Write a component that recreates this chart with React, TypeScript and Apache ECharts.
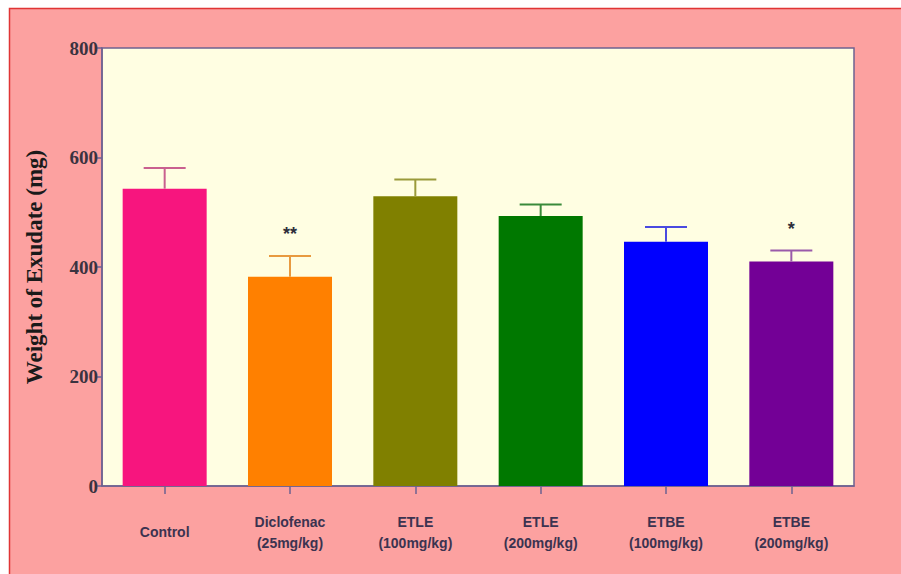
import React, { useEffect, useRef } from "react";
import * as echarts from "echarts";

const categories = [
  "Control",
  "Diclofenac\n(25mg/kg)",
  "ETLE\n(100mg/kg)",
  "ETLE\n(200mg/kg)",
  "ETBE\n(100mg/kg)",
  "ETBE\n(200mg/kg)",
];
const means = [543, 382, 529, 493, 446, 410];
const errors = [38, 38, 31, 21, 27, 20];
const stars = ["", "**", "", "", "", "*"];
const barColors = ["#F7157E", "#FF8000", "#808000", "#007800", "#0000FF", "#730096"];
const errColors = ["#C9608F", "#E89A40", "#9A9A3A", "#3A8A3A", "#4A4AE0", "#9A5AAA"];
const yTicks = { min: 0, max: 800, interval: 200 };

export default function App() {
  const ref = useRef<HTMLDivElement>(null);
  useEffect(() => {
    if (!ref.current) return;
    const chart = echarts.init(ref.current, undefined, { renderer: "svg" });
    const axisColor = "#6E6290";
    chart.setOption({
      animation: false,
      backgroundColor: "#FFFFFF",
      graphic: [
        {
          type: "rect",
          z: -10,
          silent: true,
          shape: { x: 9.5, y: 8.5, width: 1000, height: 700 },
          style: { fill: "#FCA1A0", stroke: "#E03535", lineWidth: 1.5 },
        },
      ],
      grid: {
        left: 102,
        top: 48,
        right: 47,
        bottom: 88,
        show: true,
        backgroundColor: "#FFFEE2",
        borderColor: axisColor,
        borderWidth: 1.5,
      },
      xAxis: {
        type: "category",
        data: categories,
        axisLine: { show: true, lineStyle: { color: axisColor, width: 1.5 } },
        axisTick: { show: true, alignWithLabel: true, length: 8, lineStyle: { color: axisColor, width: 1.5 } },
        axisLabel: {
          color: "#3B3350",
          fontFamily: "Liberation Sans, Arial, sans-serif",
          fontWeight: "bold",
          fontSize: 14,
          lineHeight: 21,
          margin: 46,
          verticalAlign: "middle",
          interval: 0,
        },
      },
      yAxis: {
        type: "value",
        min: yTicks.min,
        max: yTicks.max,
        interval: yTicks.interval,
        name: "Weight of Exudate (mg)",
        nameLocation: "middle",
        nameGap: 56,
        nameTextStyle: {
          color: "#1A1A1A",
          fontFamily: "Liberation Serif, Times New Roman, serif",
          fontWeight: "bold",
          fontSize: 23,
        },
        axisLine: { show: true, lineStyle: { color: axisColor, width: 1.5 } },
        axisTick: { show: true, length: 7, lineStyle: { color: axisColor, width: 1.5 } },
        axisLabel: {
          color: "#3A3340",
          fontFamily: "Liberation Serif, Times New Roman, serif",
          fontWeight: "bold",
          fontSize: 19,
          margin: 4,
        },
        splitLine: { show: false },
      },
      series: [
        {
          type: "bar",
          barWidth: 84,
          data: means.map((v, i) => ({ value: v, itemStyle: { color: barColors[i] } })),
        },
        {
          type: "custom",
          z: 3,
          data: means.map((v, i) => [i, v, v + errors[i]]),
          renderItem: (params: any, api: any) => {
            const i = api.value(0);
            const base = api.coord([i, api.value(1)]);
            const top = api.coord([i, api.value(2)]);
            const half = 21;
            const color = errColors[i];
            const children: any[] = [
              {
                type: "line",
                shape: { x1: base[0], y1: base[1], x2: top[0], y2: top[1] },
                style: { stroke: color, lineWidth: 2 },
              },
              {
                type: "line",
                shape: { x1: top[0] - half, y1: top[1], x2: top[0] + half, y2: top[1] },
                style: { stroke: color, lineWidth: 2 },
              },
            ];
            if (stars[i]) {
              children.push({
                type: "text",
                style: {
                  x: top[0],
                  y: top[1] - 22,
                  text: stars[i],
                  fill: "#2E2E3A",
                  font: "bold 18px Liberation Sans, Arial, sans-serif",
                  align: "center",
                  verticalAlign: "middle",
                },
              });
            }
            return { type: "group", children };
          },
        },
      ],
    });
    return () => chart.dispose();
  }, []);
  return (
    <div
      ref={ref}
      style={{ position: "fixed", left: 0, top: 0, width: 901, height: 574 }}
    />
  );
}
